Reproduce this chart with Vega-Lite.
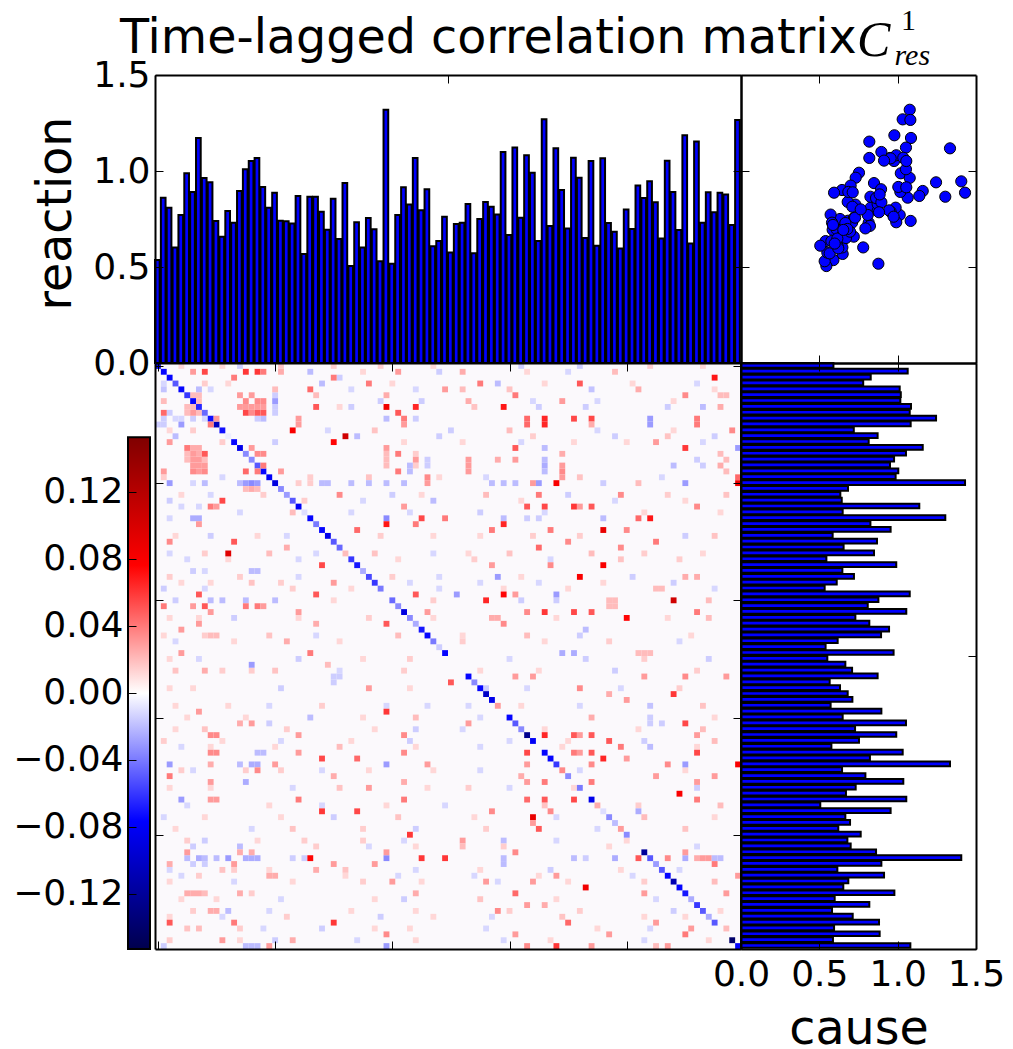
{"$schema":"https://vega.github.io/schema/vega-lite/v6.json","padding":{"left":12,"top":6,"right":0,"bottom":0},"background":"white","config":{"view":{"stroke":null},"font":"DejaVu Sans","axis":{"grid":false,"domainColor":"#000","domainWidth":2,"tickColor":"#000","tickWidth":1,"tickSize":-8,"labelFont":"DejaVu Sans","labelFontSize":36,"labelColor":"#000","labelOverlap":false,"labelFlush":false,"titleFont":"DejaVu Sans","titleFontSize":47.5,"titleFontWeight":"normal","titleColor":"#000"}},
"datasets":{"m":[{"i":0,"cause":0.59,"reaction":0.536},{"i":1,"cause":1.064,"reaction":0.861},{"i":2,"cause":0.828,"reaction":0.809},{"i":3,"cause":0.78,"reaction":0.602},{"i":4,"cause":1.013,"reaction":0.771},{"i":5,"cause":1.02,"reaction":0.988},{"i":6,"cause":1.017,"reaction":0.891},{"i":7,"cause":1.085,"reaction":1.172},{"i":8,"cause":1.077,"reaction":0.964},{"i":9,"cause":1.245,"reaction":0.941},{"i":10,"cause":1.083,"reaction":0.74},{"i":11,"cause":0.72,"reaction":0.658},{"i":12,"cause":0.872,"reaction":0.792},{"i":13,"cause":0.815,"reaction":0.731},{"i":14,"cause":1.16,"reaction":0.896},{"i":15,"cause":1.053,"reaction":1.009},{"i":16,"cause":0.977,"reaction":1.052},{"i":17,"cause":0.951,"reaction":1.068},{"i":18,"cause":1.004,"reaction":0.917},{"i":19,"cause":0.987,"reaction":0.809},{"i":20,"cause":1.43,"reaction":0.887},{"i":21,"cause":0.683,"reaction":0.741},{"i":22,"cause":0.634,"reaction":0.738},{"i":23,"cause":0.643,"reaction":0.727},{"i":24,"cause":1.138,"reaction":0.87},{"i":25,"cause":0.649,"reaction":0.568},{"i":26,"cause":1.304,"reaction":0.866},{"i":27,"cause":0.826,"reaction":0.866},{"i":28,"cause":0.955,"reaction":0.788},{"i":29,"cause":0.585,"reaction":0.694},{"i":30,"cause":0.868,"reaction":0.856},{"i":31,"cause":0.655,"reaction":0.646},{"i":32,"cause":0.849,"reaction":0.937},{"i":33,"cause":0.545,"reaction":0.505},{"i":34,"cause":0.991,"reaction":0.733},{"i":35,"cause":0.647,"reaction":0.602},{"i":36,"cause":0.721,"reaction":0.755},{"i":37,"cause":0.611,"reaction":0.696},{"i":38,"cause":0.534,"reaction":0.53},{"i":39,"cause":1.077,"reaction":1.319},{"i":40,"cause":0.877,"reaction":0.517},{"i":41,"cause":0.809,"reaction":0.771},{"i":42,"cause":1.055,"reaction":0.915},{"i":43,"cause":0.73,"reaction":0.825},{"i":44,"cause":0.819,"reaction":1.068},{"i":45,"cause":0.945,"reaction":0.795},{"i":46,"cause":0.894,"reaction":0.905},{"i":47,"cause":0.617,"reaction":0.608},{"i":48,"cause":0.54,"reaction":0.635},{"i":49,"cause":0.974,"reaction":0.762},{"i":50,"cause":0.551,"reaction":0.575},{"i":51,"cause":0.666,"reaction":0.724},{"i":52,"cause":0.709,"reaction":0.731},{"i":53,"cause":0.872,"reaction":0.828},{"i":54,"cause":0.566,"reaction":0.571},{"i":55,"cause":0.632,"reaction":0.75},{"i":56,"cause":0.681,"reaction":0.839},{"i":57,"cause":0.711,"reaction":0.814},{"i":58,"cause":0.572,"reaction":0.773},{"i":59,"cause":0.896,"reaction":1.099},{"i":60,"cause":0.649,"reaction":0.667},{"i":61,"cause":1.053,"reaction":1.122},{"i":62,"cause":0.728,"reaction":0.757},{"i":63,"cause":0.991,"reaction":1.082},{"i":64,"cause":0.753,"reaction":0.991},{"i":65,"cause":0.577,"reaction":0.635},{"i":66,"cause":1.032,"reaction":1.269},{"i":67,"cause":0.823,"reaction":0.714},{"i":68,"cause":1.334,"reaction":1.118},{"i":69,"cause":0.645,"reaction":0.901},{"i":70,"cause":0.794,"reaction":0.701},{"i":71,"cause":1.036,"reaction":1.069},{"i":72,"cause":0.732,"reaction":0.965},{"i":73,"cause":0.67,"reaction":0.651},{"i":74,"cause":1.055,"reaction":1.052},{"i":75,"cause":0.506,"reaction":0.611},{"i":76,"cause":0.955,"reaction":1.066},{"i":77,"cause":0.666,"reaction":0.729},{"i":78,"cause":0.696,"reaction":0.684},{"i":79,"cause":0.621,"reaction":0.597},{"i":80,"cause":0.764,"reaction":0.8},{"i":81,"cause":0.679,"reaction":0.698},{"i":82,"cause":0.7,"reaction":0.924},{"i":83,"cause":0.862,"reaction":0.859},{"i":84,"cause":1.406,"reaction":0.946},{"i":85,"cause":0.896,"reaction":0.837},{"i":86,"cause":0.615,"reaction":0.648},{"i":87,"cause":0.913,"reaction":1.054},{"i":88,"cause":0.685,"reaction":0.891},{"i":89,"cause":0.653,"reaction":0.693},{"i":90,"cause":0.979,"reaction":1.186},{"i":91,"cause":0.598,"reaction":0.622},{"i":92,"cause":0.819,"reaction":1.153},{"i":93,"cause":0.581,"reaction":0.731},{"i":94,"cause":0.713,"reaction":0.889},{"i":95,"cause":0.881,"reaction":0.785},{"i":96,"cause":0.594,"reaction":0.887},{"i":97,"cause":0.885,"reaction":0.878},{"i":98,"cause":0.587,"reaction":0.719},{"i":99,"cause":1.081,"reaction":1.266}],
"h":[{"r":0,"c":4,"v":0.012},{"r":0,"c":11,"v":0.012},{"r":0,"c":14,"v":-0.015},{"r":0,"c":21,"v":0.018},{"r":0,"c":30,"v":0.015},{"r":0,"c":38,"v":0.015},{"r":0,"c":47,"v":0.012},{"r":0,"c":62,"v":-0.015},{"r":0,"c":72,"v":-0.015},{"r":0,"c":84,"v":0.015},{"r":0,"c":93,"v":0.012},{"r":1,"c":26,"v":-0.02},{"r":1,"c":35,"v":0.012},{"r":1,"c":48,"v":-0.015},{"r":1,"c":63,"v":0.012},{"r":1,"c":70,"v":-0.012},{"r":1,"c":78,"v":0.02},{"r":3,"c":1,"v":-0.012},{"r":3,"c":8,"v":0.015},{"r":3,"c":12,"v":0.012},{"r":3,"c":28,"v":-0.02},{"r":3,"c":40,"v":0.012},{"r":3,"c":58,"v":-0.02},{"r":3,"c":66,"v":0.012},{"r":3,"c":81,"v":0.012},{"r":3,"c":92,"v":-0.012},{"r":4,"c":1,"v":-0.018},{"r":4,"c":33,"v":-0.012},{"r":4,"c":44,"v":-0.012},{"r":4,"c":52,"v":0.02},{"r":4,"c":60,"v":0.018},{"r":4,"c":74,"v":-0.018},{"r":4,"c":82,"v":0.025},{"r":4,"c":95,"v":0.012},{"r":6,"c":1,"v":0.02},{"r":6,"c":38,"v":-0.015},{"r":6,"c":45,"v":-0.015},{"r":6,"c":53,"v":0.025},{"r":6,"c":64,"v":-0.012},{"r":6,"c":75,"v":-0.012},{"r":6,"c":88,"v":0.012},{"r":7,"c":31,"v":0.012},{"r":7,"c":54,"v":0.018},{"r":7,"c":65,"v":-0.015},{"r":7,"c":73,"v":-0.015},{"r":7,"c":87,"v":-0.015},{"r":7,"c":93,"v":-0.02},{"r":11,"c":2,"v":0.012},{"r":11,"c":6,"v":0.015},{"r":11,"c":29,"v":-0.012},{"r":11,"c":37,"v":0.018},{"r":11,"c":50,"v":-0.015},{"r":11,"c":60,"v":0.02},{"r":11,"c":75,"v":-0.012},{"r":11,"c":88,"v":0.012},{"r":12,"c":3,"v":-0.02},{"r":12,"c":34,"v":-0.02},{"r":12,"c":48,"v":-0.015},{"r":12,"c":64,"v":0.015},{"r":12,"c":78,"v":-0.015},{"r":12,"c":87,"v":0.018},{"r":12,"c":95,"v":-0.015},{"r":13,"c":11,"v":0.015},{"r":13,"c":20,"v":-0.015},{"r":13,"c":42,"v":0.012},{"r":13,"c":52,"v":0.012},{"r":13,"c":62,"v":-0.012},{"r":13,"c":71,"v":0.012},{"r":13,"c":80,"v":0.012},{"r":13,"c":93,"v":-0.012},{"r":19,"c":1,"v":0.015},{"r":19,"c":11,"v":-0.012},{"r":19,"c":26,"v":0.015},{"r":19,"c":36,"v":0.018},{"r":19,"c":48,"v":0.012},{"r":19,"c":56,"v":-0.012},{"r":19,"c":72,"v":0.018},{"r":19,"c":86,"v":-0.012},{"r":22,"c":4,"v":0.012},{"r":22,"c":9,"v":-0.012},{"r":22,"c":18,"v":0.015},{"r":22,"c":40,"v":-0.015},{"r":22,"c":45,"v":0.012},{"r":22,"c":56,"v":0.02},{"r":22,"c":70,"v":-0.015},{"r":22,"c":87,"v":0.015},{"r":22,"c":97,"v":0.018},{"r":23,"c":2,"v":-0.015},{"r":23,"c":25,"v":0.015},{"r":23,"c":35,"v":-0.012},{"r":23,"c":47,"v":-0.02},{"r":23,"c":62,"v":0.012},{"r":23,"c":78,"v":-0.012},{"r":23,"c":90,"v":0.012},{"r":25,"c":14,"v":-0.012},{"r":25,"c":23,"v":0.02},{"r":25,"c":33,"v":-0.012},{"r":25,"c":43,"v":-0.012},{"r":25,"c":55,"v":-0.015},{"r":25,"c":66,"v":-0.012},{"r":25,"c":83,"v":0.012},{"r":25,"c":96,"v":0.012},{"r":29,"c":3,"v":0.012},{"r":29,"c":9,"v":-0.015},{"r":29,"c":17,"v":0.012},{"r":29,"c":22,"v":-0.012},{"r":29,"c":38,"v":0.015},{"r":29,"c":47,"v":0.012},{"r":29,"c":55,"v":0.012},{"r":29,"c":64,"v":0.015},{"r":29,"c":72,"v":0.015},{"r":29,"c":90,"v":-0.015},{"r":29,"c":95,"v":0.018},{"r":32,"c":2,"v":-0.012},{"r":32,"c":8,"v":0.015},{"r":32,"c":19,"v":0.02},{"r":32,"c":27,"v":-0.012},{"r":32,"c":37,"v":0.018},{"r":32,"c":47,"v":-0.012},{"r":32,"c":53,"v":0.012},{"r":32,"c":60,"v":0.018},{"r":32,"c":74,"v":0.02},{"r":32,"c":83,"v":0.015},{"r":32,"c":93,"v":0.012},{"r":33,"c":5,"v":-0.012},{"r":33,"c":12,"v":0.012},{"r":33,"c":24,"v":-0.012},{"r":33,"c":41,"v":0.012},{"r":33,"c":54,"v":0.015},{"r":33,"c":67,"v":-0.012},{"r":33,"c":79,"v":0.018},{"r":33,"c":89,"v":0.015},{"r":36,"c":2,"v":0.015},{"r":36,"c":14,"v":0.015},{"r":36,"c":24,"v":-0.012},{"r":36,"c":40,"v":0.015},{"r":36,"c":48,"v":-0.012},{"r":36,"c":62,"v":0.012},{"r":36,"c":81,"v":-0.015},{"r":36,"c":90,"v":0.025},{"r":36,"c":92,"v":0.025},{"r":37,"c":4,"v":0.012},{"r":37,"c":9,"v":0.012},{"r":37,"c":16,"v":0.018},{"r":37,"c":21,"v":0.015},{"r":37,"c":43,"v":-0.012},{"r":37,"c":55,"v":-0.012},{"r":37,"c":65,"v":-0.012},{"r":37,"c":76,"v":0.012},{"r":37,"c":88,"v":-0.015},{"r":38,"c":1,"v":-0.015},{"r":38,"c":8,"v":-0.012},{"r":38,"c":23,"v":0.015},{"r":38,"c":33,"v":0.012},{"r":38,"c":48,"v":-0.012},{"r":38,"c":59,"v":0.012},{"r":38,"c":70,"v":0.012},{"r":38,"c":95,"v":-0.012},{"r":40,"c":3,"v":-0.015},{"r":40,"c":9,"v":-0.02},{"r":40,"c":11,"v":-0.02},{"r":40,"c":15,"v":-0.02},{"r":40,"c":20,"v":-0.02},{"r":40,"c":30,"v":0.012},{"r":40,"c":47,"v":0.015},{"r":40,"c":62,"v":-0.015},{"r":40,"c":68,"v":-0.015},{"r":40,"c":94,"v":0.02},{"r":43,"c":2,"v":0.012},{"r":43,"c":7,"v":0.012},{"r":43,"c":13,"v":-0.015},{"r":43,"c":24,"v":0.012},{"r":43,"c":36,"v":0.015},{"r":43,"c":47,"v":0.012},{"r":43,"c":57,"v":0.025},{"r":43,"c":58,"v":0.025},{"r":43,"c":68,"v":0.012},{"r":43,"c":87,"v":0.012},{"r":43,"c":94,"v":0.02},{"r":46,"c":1,"v":0.012},{"r":46,"c":8,"v":0.015},{"r":46,"c":9,"v":0.02},{"r":46,"c":10,"v":0.02},{"r":46,"c":19,"v":0.018},{"r":46,"c":27,"v":-0.012},{"r":46,"c":41,"v":0.02},{"r":46,"c":52,"v":0.012},{"r":46,"c":63,"v":0.02},{"r":46,"c":72,"v":-0.015},{"r":46,"c":91,"v":0.012},{"r":47,"c":3,"v":-0.012},{"r":47,"c":13,"v":0.012},{"r":47,"c":22,"v":0.025},{"r":47,"c":31,"v":0.012},{"r":47,"c":52,"v":0.015},{"r":47,"c":66,"v":0.012},{"r":47,"c":77,"v":0.015},{"r":47,"c":89,"v":-0.012},{"r":50,"c":2,"v":0.012},{"r":50,"c":7,"v":-0.012},{"r":50,"c":24,"v":-0.015},{"r":50,"c":35,"v":0.012},{"r":50,"c":43,"v":0.015},{"r":50,"c":60,"v":-0.012},{"r":50,"c":73,"v":-0.015},{"r":50,"c":83,"v":0.015},{"r":50,"c":94,"v":-0.015},{"r":52,"c":3,"v":0.018},{"r":52,"c":8,"v":0.025},{"r":52,"c":11,"v":0.015},{"r":52,"c":16,"v":0.015},{"r":52,"c":20,"v":0.018},{"r":52,"c":31,"v":-0.012},{"r":52,"c":42,"v":0.015},{"r":52,"c":55,"v":0.012},{"r":52,"c":65,"v":0.012},{"r":52,"c":78,"v":-0.015},{"r":52,"c":92,"v":0.015},{"r":55,"c":2,"v":0.012},{"r":55,"c":6,"v":0.012},{"r":55,"c":21,"v":-0.015},{"r":55,"c":43,"v":0.012},{"r":55,"c":56,"v":-0.015},{"r":55,"c":63,"v":-0.012},{"r":55,"c":79,"v":-0.012},{"r":55,"c":89,"v":0.015},{"r":58,"c":3,"v":0.012},{"r":58,"c":12,"v":0.012},{"r":58,"c":19,"v":-0.012},{"r":58,"c":28,"v":0.015},{"r":58,"c":39,"v":-0.012},{"r":58,"c":46,"v":-0.012},{"r":58,"c":53,"v":-0.012},{"r":58,"c":62,"v":0.012},{"r":58,"c":72,"v":-0.012},{"r":58,"c":84,"v":-0.018},{"r":58,"c":93,"v":0.018},{"r":60,"c":5,"v":0.012},{"r":60,"c":15,"v":0.012},{"r":60,"c":26,"v":-0.02},{"r":60,"c":35,"v":0.012},{"r":60,"c":44,"v":0.02},{"r":60,"c":55,"v":-0.012},{"r":60,"c":74,"v":0.025},{"r":60,"c":84,"v":-0.015},{"r":60,"c":95,"v":0.012},{"r":62,"c":3,"v":0.012},{"r":62,"c":8,"v":0.018},{"r":62,"c":22,"v":0.015},{"r":62,"c":37,"v":0.012},{"r":62,"c":44,"v":-0.015},{"r":62,"c":52,"v":-0.012},{"r":62,"c":66,"v":0.012},{"r":62,"c":82,"v":0.012},{"r":62,"c":93,"v":0.02},{"r":64,"c":1,"v":0.015},{"r":64,"c":11,"v":0.012},{"r":64,"c":21,"v":-0.012},{"r":64,"c":33,"v":0.012},{"r":64,"c":43,"v":-0.015},{"r":64,"c":60,"v":-0.012},{"r":64,"c":70,"v":0.012},{"r":64,"c":83,"v":-0.015},{"r":64,"c":95,"v":0.02},{"r":65,"c":4,"v":-0.012},{"r":65,"c":9,"v":0.012},{"r":65,"c":20,"v":0.012},{"r":65,"c":31,"v":0.02},{"r":65,"c":44,"v":0.012},{"r":65,"c":55,"v":-0.012},{"r":65,"c":69,"v":0.012},{"r":65,"c":84,"v":-0.02},{"r":65,"c":92,"v":0.012},{"r":69,"c":4,"v":0.015},{"r":69,"c":6,"v":-0.012},{"r":69,"c":15,"v":0.015},{"r":69,"c":21,"v":0.015},{"r":69,"c":28,"v":-0.012},{"r":69,"c":36,"v":0.012},{"r":69,"c":47,"v":0.012},{"r":69,"c":55,"v":-0.012},{"r":69,"c":72,"v":-0.012},{"r":69,"c":90,"v":0.012},{"r":72,"c":2,"v":0.012},{"r":72,"c":9,"v":0.012},{"r":72,"c":23,"v":-0.012},{"r":72,"c":31,"v":0.018},{"r":72,"c":46,"v":0.012},{"r":72,"c":53,"v":0.015},{"r":72,"c":60,"v":-0.012},{"r":72,"c":71,"v":0.012},{"r":72,"c":92,"v":-0.015},{"r":75,"c":5,"v":-0.012},{"r":75,"c":19,"v":0.012},{"r":75,"c":28,"v":-0.012},{"r":75,"c":39,"v":0.012},{"r":75,"c":49,"v":-0.012},{"r":75,"c":66,"v":0.018},{"r":75,"c":82,"v":0.015},{"r":75,"c":96,"v":0.02},{"r":77,"c":1,"v":-0.012},{"r":77,"c":8,"v":0.012},{"r":77,"c":21,"v":0.012},{"r":77,"c":30,"v":-0.015},{"r":77,"c":41,"v":0.018},{"r":77,"c":54,"v":0.012},{"r":77,"c":68,"v":-0.012},{"r":77,"c":83,"v":0.02},{"r":77,"c":95,"v":0.012},{"r":79,"c":3,"v":0.012},{"r":79,"c":16,"v":-0.012},{"r":79,"c":23,"v":0.018},{"r":79,"c":35,"v":0.015},{"r":79,"c":44,"v":-0.015},{"r":79,"c":56,"v":0.015},{"r":79,"c":75,"v":-0.012},{"r":79,"c":90,"v":0.018},{"r":81,"c":5,"v":0.015},{"r":81,"c":8,"v":-0.015},{"r":81,"c":17,"v":0.012},{"r":81,"c":25,"v":0.015},{"r":81,"c":35,"v":0.015},{"r":81,"c":42,"v":-0.012},{"r":81,"c":59,"v":-0.02},{"r":81,"c":68,"v":-0.012},{"r":81,"c":80,"v":0.012},{"r":82,"c":6,"v":-0.015},{"r":82,"c":14,"v":-0.02},{"r":82,"c":27,"v":0.015},{"r":82,"c":36,"v":-0.012},{"r":82,"c":44,"v":0.012},{"r":82,"c":59,"v":0.015},{"r":82,"c":77,"v":0.012},{"r":82,"c":92,"v":-0.012},{"r":86,"c":2,"v":-0.012},{"r":86,"c":11,"v":0.018},{"r":86,"c":13,"v":0.015},{"r":86,"c":19,"v":0.012},{"r":86,"c":27,"v":0.025},{"r":86,"c":32,"v":0.018},{"r":86,"c":44,"v":-0.012},{"r":86,"c":55,"v":0.012},{"r":86,"c":67,"v":-0.015},{"r":86,"c":79,"v":0.012},{"r":86,"c":89,"v":-0.012},{"r":87,"c":4,"v":-0.012},{"r":87,"c":7,"v":0.015},{"r":87,"c":32,"v":0.012},{"r":87,"c":41,"v":-0.012},{"r":87,"c":54,"v":-0.012},{"r":87,"c":65,"v":0.012},{"r":87,"c":81,"v":-0.012},{"r":88,"c":2,"v":0.012},{"r":88,"c":13,"v":-0.012},{"r":88,"c":23,"v":0.012},{"r":88,"c":35,"v":0.015},{"r":88,"c":45,"v":0.012},{"r":88,"c":58,"v":-0.012},{"r":88,"c":70,"v":0.012},{"r":88,"c":83,"v":0.015},{"r":88,"c":95,"v":0.02},{"r":91,"c":4,"v":0.012},{"r":91,"c":10,"v":0.012},{"r":91,"c":21,"v":-0.012},{"r":91,"c":37,"v":0.012},{"r":91,"c":42,"v":-0.015},{"r":91,"c":55,"v":0.018},{"r":91,"c":68,"v":0.012},{"r":91,"c":85,"v":-0.012},{"r":93,"c":6,"v":0.015},{"r":93,"c":9,"v":0.025},{"r":93,"c":10,"v":0.025},{"r":93,"c":12,"v":-0.02},{"r":93,"c":19,"v":-0.012},{"r":93,"c":33,"v":0.012},{"r":93,"c":44,"v":0.012},{"r":93,"c":60,"v":0.015},{"r":93,"c":72,"v":0.015},{"r":93,"c":88,"v":-0.015},{"r":93,"c":96,"v":0.012},{"r":94,"c":2,"v":0.012},{"r":94,"c":11,"v":-0.012},{"r":94,"c":22,"v":0.015},{"r":94,"c":38,"v":-0.015},{"r":94,"c":47,"v":0.012},{"r":94,"c":57,"v":-0.012},{"r":94,"c":69,"v":0.018},{"r":94,"c":83,"v":0.012},{"r":94,"c":90,"v":0.012},{"r":96,"c":5,"v":0.018},{"r":96,"c":7,"v":0.02},{"r":96,"c":14,"v":0.015},{"r":96,"c":18,"v":-0.012},{"r":96,"c":28,"v":-0.015},{"r":96,"c":37,"v":0.012},{"r":96,"c":43,"v":0.012},{"r":96,"c":56,"v":-0.012},{"r":96,"c":75,"v":0.012},{"r":96,"c":84,"v":-0.012},{"r":96,"c":97,"v":0.02},{"r":98,"c":2,"v":0.015},{"r":98,"c":14,"v":0.012},{"r":98,"c":20,"v":-0.015},{"r":98,"c":34,"v":-0.012},{"r":98,"c":44,"v":0.012},{"r":98,"c":59,"v":-0.012},{"r":98,"c":67,"v":0.012},{"r":98,"c":83,"v":-0.012},{"r":98,"c":94,"v":0.012},
{"r":5,"c":6,"v":0.02},{"r":5,"c":7,"v":0.02},{"r":6,"c":7,"v":0.02},{"r":7,"c":5,"v":0.02},{"r":7,"c":6,"v":0.02},{"r":8,"c":5,"v":0.02},{"r":8,"c":7,"v":0.02},{"r":14,"c":6,"v":0.025},{"r":14,"c":7,"v":0.025},{"r":15,"c":5,"v":0.02},{"r":15,"c":7,"v":0.025},{"r":16,"c":5,"v":0.02},{"r":16,"c":8,"v":0.02},{"r":17,"c":6,"v":0.03},{"r":17,"c":7,"v":0.03},{"r":18,"c":7,"v":0.03},{"r":9,"c":1,"v":-0.015},{"r":9,"c":3,"v":-0.012},{"r":9,"c":4,"v":-0.012},{"r":9,"c":6,"v":-0.015},{"r":9,"c":8,"v":-0.012},{"r":9,"c":17,"v":-0.015},{"r":9,"c":18,"v":-0.02},{"r":10,"c":0,"v":-0.015},{"r":10,"c":1,"v":-0.015},{"r":10,"c":4,"v":-0.03},{"r":5,"c":20,"v":-0.015},{"r":7,"c":20,"v":-0.015},{"r":8,"c":20,"v":-0.015},{"r":8,"c":2,"v":-0.015},{"r":4,"c":7,"v":-0.02},{"r":4,"c":9,"v":-0.012},{"r":20,"c":6,"v":-0.012},{"r":20,"c":8,"v":-0.02},{"r":20,"c":14,"v":-0.02},{"r":20,"c":15,"v":-0.03},{"r":20,"c":17,"v":-0.03},{"r":20,"c":24,"v":0.015},{"r":20,"c":26,"v":0.015},{"r":26,"c":2,"v":-0.012},{"r":26,"c":6,"v":-0.025},{"r":26,"c":7,"v":-0.025},{"r":24,"c":4,"v":-0.012},{"r":24,"c":7,"v":-0.012},{"r":35,"c":6,"v":-0.015},{"r":35,"c":8,"v":-0.012},{"r":35,"c":16,"v":-0.02},{"r":35,"c":17,"v":-0.02},{"r":21,"c":15,"v":0.02},{"r":21,"c":17,"v":0.02},{"r":15,"c":39,"v":0.02},{"r":16,"c":39,"v":0.02},{"r":17,"c":39,"v":0.02},{"r":15,"c":44,"v":0.015},{"r":17,"c":44,"v":0.015},{"r":16,"c":46,"v":-0.015},{"r":17,"c":46,"v":-0.015},{"r":18,"c":43,"v":-0.02},{"r":17,"c":43,"v":-0.02},{"r":9,"c":39,"v":-0.02},{"r":9,"c":44,"v":-0.015},{"r":20,"c":29,"v":-0.02},{"r":20,"c":33,"v":-0.02},{"r":20,"c":36,"v":-0.02},{"r":20,"c":39,"v":-0.02},{"r":20,"c":42,"v":-0.02},{"r":7,"c":33,"v":-0.015},{"r":2,"c":31,"v":-0.015},{"r":14,"c":66,"v":-0.02},{"r":16,"c":66,"v":-0.02},{"r":17,"c":66,"v":-0.025},{"r":18,"c":66,"v":-0.02},{"r":15,"c":69,"v":0.025},{"r":17,"c":69,"v":0.03},{"r":18,"c":69,"v":0.035},{"r":19,"c":69,"v":0.03},{"r":15,"c":96,"v":0.02},{"r":17,"c":96,"v":0.025},{"r":16,"c":97,"v":0.02},{"r":18,"c":97,"v":0.02},{"r":5,"c":96,"v":0.02},{"r":5,"c":97,"v":0.02},{"r":7,"c":96,"v":0.025},{"r":16,"c":58,"v":0.025},{"r":16,"c":53,"v":0.03},{"r":17,"c":53,"v":0.03},{"r":18,"c":53,"v":0.03},{"r":16,"c":61,"v":0.03},{"r":17,"c":88,"v":-0.02},{"r":16,"c":92,"v":-0.015},{"r":17,"c":93,"v":-0.015},{"r":20,"c":57,"v":-0.02},{"r":20,"c":59,"v":-0.02},{"r":20,"c":61,"v":-0.02},{"r":20,"c":64,"v":0.03},{"r":20,"c":65,"v":-0.03},{"r":20,"c":76,"v":-0.015},{"r":20,"c":82,"v":0.02},{"r":20,"c":90,"v":-0.03},{"r":26,"c":59,"v":-0.02},{"r":26,"c":63,"v":-0.015},{"r":26,"c":65,"v":-0.015},{"r":26,"c":76,"v":-0.02},{"r":9,"c":84,"v":-0.03},{"r":84,"c":5,"v":-0.02},{"r":84,"c":8,"v":-0.02},{"r":84,"c":10,"v":-0.02},{"r":84,"c":15,"v":-0.025},{"r":84,"c":16,"v":-0.025},{"r":84,"c":17,"v":-0.025},{"r":84,"c":23,"v":-0.015},{"r":84,"c":25,"v":-0.015},{"r":85,"c":6,"v":-0.015},{"r":85,"c":8,"v":-0.015},{"r":68,"c":14,"v":-0.02},{"r":68,"c":16,"v":-0.025},{"r":68,"c":17,"v":-0.025},{"r":66,"c":17,"v":-0.02},{"r":66,"c":18,"v":-0.02},{"r":53,"c":30,"v":-0.015},{"r":53,"c":31,"v":-0.015},{"r":54,"c":30,"v":-0.015},{"r":90,"c":6,"v":0.025},{"r":90,"c":8,"v":0.02},{"r":90,"c":16,"v":0.015},{"r":61,"c":14,"v":0.025},{"r":61,"c":16,"v":0.03},{"r":61,"c":19,"v":-0.015},{"r":87,"c":19,"v":0.025},{"r":87,"c":20,"v":0.025},{"r":84,"c":71,"v":-0.02},{"r":84,"c":73,"v":-0.015},{"r":84,"c":59,"v":-0.02},{"r":85,"c":59,"v":-0.02},{"r":84,"c":90,"v":-0.025},{"r":84,"c":92,"v":0.025},{"r":84,"c":93,"v":0.03},{"r":84,"c":94,"v":0.03},{"r":84,"c":95,"v":-0.02},{"r":84,"c":96,"v":-0.02},{"r":61,"c":84,"v":-0.015},{"r":61,"c":86,"v":-0.015},{"r":49,"c":69,"v":-0.025},{"r":49,"c":71,"v":-0.025},{"r":49,"c":82,"v":0.02},{"r":49,"c":83,"v":0.02},{"r":49,"c":84,"v":0.02},{"r":40,"c":77,"v":0.02},{"r":41,"c":77,"v":0.02},{"r":40,"c":78,"v":0.02},{"r":41,"c":78,"v":0.02},{"r":45,"c":73,"v":-0.02},{"r":38,"c":85,"v":0.02},{"r":38,"c":86,"v":0.02},{"r":99,"c":85,"v":0.02},
{"r":0,"c":0,"v":-0.08},{"r":1,"c":1,"v":-0.075},{"r":2,"c":2,"v":-0.075},{"r":3,"c":3,"v":-0.05},{"r":4,"c":4,"v":-0.075},{"r":5,"c":5,"v":-0.06},{"r":6,"c":6,"v":-0.075},{"r":7,"c":7,"v":-0.065},{"r":8,"c":8,"v":-0.045},{"r":9,"c":9,"v":-0.072},{"r":10,"c":10,"v":-0.105},{"r":11,"c":11,"v":-0.072},{"r":12,"c":12,"v":-0.005},{"r":13,"c":13,"v":-0.075},{"r":14,"c":14,"v":-0.085},{"r":15,"c":15,"v":-0.035},{"r":16,"c":16,"v":-0.035},{"r":17,"c":17,"v":-0.05},{"r":18,"c":18,"v":-0.075},{"r":19,"c":19,"v":-0.08},{"r":20,"c":20,"v":-0.09},{"r":21,"c":21,"v":-0.035},{"r":22,"c":22,"v":-0.03},{"r":23,"c":23,"v":-0.05},{"r":24,"c":24,"v":-0.08},{"r":25,"c":25,"v":-0.01},{"r":26,"c":26,"v":-0.075},{"r":27,"c":27,"v":-0.04},{"r":28,"c":28,"v":-0.075},{"r":29,"c":29,"v":-0.085},{"r":30,"c":30,"v":-0.05},{"r":31,"c":31,"v":-0.045},{"r":32,"c":32,"v":0.02},{"r":33,"c":33,"v":-0.06},{"r":34,"c":34,"v":-0.07},{"r":35,"c":35,"v":-0.025},{"r":36,"c":36,"v":-0.055},{"r":37,"c":37,"v":-0.06},{"r":38,"c":38,"v":-0.04},{"r":40,"c":40,"v":-0.045},{"r":41,"c":41,"v":-0.035},{"r":42,"c":42,"v":-0.09},{"r":43,"c":43,"v":-0.035},{"r":44,"c":44,"v":-0.025},{"r":45,"c":45,"v":-0.07},{"r":46,"c":46,"v":-0.075},{"r":47,"c":47,"v":-0.04},{"r":48,"c":48,"v":-0.015},{"r":49,"c":49,"v":-0.075},{"r":53,"c":53,"v":-0.075},{"r":54,"c":54,"v":-0.035},{"r":55,"c":55,"v":-0.075},{"r":56,"c":56,"v":-0.1},{"r":57,"c":57,"v":-0.085},{"r":58,"c":58,"v":0.03},{"r":60,"c":60,"v":-0.075},{"r":61,"c":61,"v":-0.05},{"r":62,"c":62,"v":-0.035},{"r":63,"c":63,"v":-0.125},{"r":64,"c":64,"v":-0.08},{"r":66,"c":66,"v":-0.075},{"r":67,"c":67,"v":-0.075},{"r":68,"c":68,"v":-0.06},{"r":69,"c":69,"v":0.035},{"r":70,"c":70,"v":-0.035},{"r":72,"c":72,"v":-0.04},{"r":74,"c":74,"v":-0.085},{"r":75,"c":75,"v":0.025},{"r":76,"c":76,"v":-0.01},{"r":77,"c":77,"v":-0.035},{"r":78,"c":78,"v":-0.02},{"r":79,"c":79,"v":0.03},{"r":80,"c":80,"v":-0.035},{"r":83,"c":83,"v":-0.12},{"r":84,"c":84,"v":-0.05},{"r":85,"c":85,"v":-0.03},{"r":86,"c":86,"v":-0.05},{"r":87,"c":87,"v":-0.075},{"r":88,"c":88,"v":-0.11},{"r":89,"c":89,"v":-0.075},{"r":90,"c":90,"v":-0.07},{"r":91,"c":91,"v":-0.025},{"r":92,"c":92,"v":-0.06},{"r":93,"c":93,"v":-0.05},{"r":94,"c":94,"v":-0.025},{"r":95,"c":95,"v":-0.05},{"r":98,"c":98,"v":-0.14},{"r":99,"c":99,"v":-0.075},
{"r":1,"c":6,"v":0.03},{"r":1,"c":8,"v":0.055},{"r":1,"c":15,"v":0.06},{"r":1,"c":17,"v":0.06},{"r":1,"c":18,"v":0.04},{"r":1,"c":21,"v":0.025},{"r":1,"c":41,"v":0.03},{"r":2,"c":13,"v":0.04},{"r":2,"c":30,"v":0.04},{"r":3,"c":36,"v":0.04},{"r":4,"c":26,"v":0.045},{"r":4,"c":49,"v":0.03},{"r":4,"c":20,"v":0.02},{"r":5,"c":14,"v":0.03},{"r":5,"c":16,"v":0.03},{"r":5,"c":27,"v":0.02},{"r":5,"c":39,"v":0.025},{"r":6,"c":15,"v":0.035},{"r":6,"c":17,"v":0.035},{"r":6,"c":18,"v":0.035},{"r":6,"c":20,"v":-0.03},{"r":7,"c":14,"v":0.03},{"r":7,"c":15,"v":0.03},{"r":7,"c":16,"v":0.03},{"r":7,"c":17,"v":0.03},{"r":7,"c":18,"v":0.03},{"r":7,"c":27,"v":0.05},{"r":7,"c":39,"v":0.085},{"r":7,"c":44,"v":0.065},{"r":8,"c":1,"v":0.045},{"r":8,"c":6,"v":0.03},{"r":8,"c":15,"v":0.055},{"r":8,"c":16,"v":0.035},{"r":8,"c":17,"v":0.05},{"r":8,"c":18,"v":0.05},{"r":8,"c":41,"v":0.05},{"r":9,"c":10,"v":0.03},{"r":9,"c":24,"v":0.03},{"r":9,"c":42,"v":0.04},{"r":10,"c":9,"v":0.04},{"r":10,"c":24,"v":0.03},{"r":10,"c":42,"v":0.03},{"r":11,"c":23,"v":0.08},{"r":12,"c":32,"v":0.105},{"r":13,"c":2,"v":0.03},{"r":13,"c":30,"v":0.075},{"r":14,"c":5,"v":0.04},{"r":14,"c":16,"v":0.03},{"r":14,"c":39,"v":0.03},{"r":15,"c":6,"v":0.03},{"r":15,"c":8,"v":0.05},{"r":15,"c":17,"v":0.035},{"r":15,"c":18,"v":0.035},{"r":15,"c":41,"v":0.04},{"r":16,"c":6,"v":0.03},{"r":16,"c":7,"v":0.03},{"r":16,"c":44,"v":0.03},{"r":17,"c":8,"v":0.03},{"r":17,"c":18,"v":0.04},{"r":18,"c":1,"v":0.03},{"r":18,"c":6,"v":0.035},{"r":18,"c":8,"v":0.035},{"r":18,"c":15,"v":0.045},{"r":18,"c":17,"v":0.04},{"r":18,"c":21,"v":0.03},{"r":18,"c":41,"v":0.04},{"r":19,"c":46,"v":0.035},{"r":20,"c":2,"v":-0.03},{"r":20,"c":16,"v":-0.035},{"r":20,"c":46,"v":0.03},{"r":20,"c":28,"v":-0.02},{"r":21,"c":16,"v":0.025},{"r":22,"c":31,"v":0.035},{"r":23,"c":11,"v":0.055},{"r":24,"c":9,"v":0.04},{"r":24,"c":10,"v":0.03},{"r":24,"c":42,"v":0.03},{"r":26,"c":45,"v":0.055},{"r":26,"c":49,"v":0.04},{"r":26,"c":39,"v":-0.035},{"r":27,"c":39,"v":0.07},{"r":27,"c":7,"v":0.03},{"r":27,"c":44,"v":0.04},{"r":28,"c":34,"v":0.045},{"r":30,"c":2,"v":0.035},{"r":30,"c":13,"v":0.05},{"r":31,"c":22,"v":0.025},{"r":32,"c":12,"v":0.095},{"r":34,"c":28,"v":0.055},{"r":37,"c":30,"v":0.03},{"r":39,"c":7,"v":0.05},{"r":39,"c":27,"v":0.05},{"r":39,"c":44,"v":0.05},{"r":41,"c":1,"v":0.04},{"r":41,"c":6,"v":0.03},{"r":41,"c":8,"v":0.05},{"r":41,"c":15,"v":0.04},{"r":41,"c":17,"v":0.04},{"r":41,"c":18,"v":0.03},{"r":42,"c":9,"v":0.03},{"r":42,"c":24,"v":0.03},{"r":42,"c":46,"v":0.03},{"r":44,"c":7,"v":0.03},{"r":44,"c":39,"v":0.05},{"r":44,"c":27,"v":0.025},{"r":45,"c":4,"v":0.03},{"r":49,"c":26,"v":0.04},{"r":49,"c":4,"v":0.03},
{"r":2,"c":95,"v":0.07},{"r":1,"c":52,"v":0.025},{"r":3,"c":55,"v":0.04},{"r":3,"c":72,"v":0.05},{"r":5,"c":61,"v":0.04},{"r":5,"c":90,"v":0.035},{"r":7,"c":59,"v":0.07},{"r":6,"c":69,"v":0.03},{"r":9,"c":63,"v":0.045},{"r":10,"c":63,"v":0.045},{"r":9,"c":66,"v":0.065},{"r":10,"c":66,"v":0.065},{"r":9,"c":71,"v":0.055},{"r":9,"c":74,"v":0.055},{"r":10,"c":74,"v":0.025},{"r":9,"c":92,"v":0.04},{"r":10,"c":92,"v":0.04},{"r":11,"c":98,"v":0.035},{"r":13,"c":85,"v":0.03},{"r":14,"c":61,"v":0.05},{"r":14,"c":90,"v":0.06},{"r":14,"c":99,"v":-0.03},{"r":20,"c":68,"v":0.08},{"r":20,"c":99,"v":0.085},{"r":19,"c":99,"v":0.045},{"r":24,"c":63,"v":0.05},{"r":24,"c":66,"v":0.055},{"r":24,"c":71,"v":0.06},{"r":24,"c":72,"v":0.03},{"r":24,"c":74,"v":0.05},{"r":24,"c":92,"v":0.035},{"r":22,"c":65,"v":0.04},{"r":22,"c":79,"v":0.035},{"r":26,"c":82,"v":0.045},{"r":26,"c":84,"v":0.07},{"r":27,"c":59,"v":0.065},{"r":28,"c":57,"v":0.04},{"r":28,"c":67,"v":0.04},{"r":28,"c":76,"v":0.09},{"r":28,"c":80,"v":0.035},{"r":30,"c":85,"v":0.04},{"r":30,"c":70,"v":0.035},{"r":31,"c":65,"v":0.045},{"r":31,"c":79,"v":0.035},{"r":34,"c":57,"v":0.03},{"r":34,"c":67,"v":0.035},{"r":34,"c":76,"v":0.08},{"r":36,"c":72,"v":0.08},{"r":39,"c":59,"v":0.075},{"r":39,"c":61,"v":0.03},{"r":40,"c":56,"v":0.065},{"r":40,"c":88,"v":0.105},{"r":42,"c":63,"v":0.035},{"r":42,"c":66,"v":0.06},{"r":42,"c":71,"v":0.055},{"r":42,"c":74,"v":0.05},{"r":42,"c":92,"v":0.04},{"r":43,"c":80,"v":0.075},{"r":44,"c":59,"v":0.035},{"r":39,"c":51,"v":-0.03},{"r":36,"c":58,"v":-0.03},{"r":39,"c":68,"v":-0.03},{"r":10,"c":84,"v":-0.03},
{"r":59,"c":39,"v":0.06},{"r":59,"c":7,"v":0.03},{"r":63,"c":9,"v":0.035},{"r":63,"c":10,"v":0.035},{"r":63,"c":24,"v":0.03},{"r":63,"c":42,"v":0.035},{"r":66,"c":9,"v":0.035},{"r":66,"c":10,"v":0.035},{"r":66,"c":24,"v":0.03},{"r":66,"c":42,"v":0.035},{"r":67,"c":28,"v":0.055},{"r":67,"c":34,"v":0.045},{"r":68,"c":2,"v":-0.03},{"r":68,"c":20,"v":0.03},{"r":68,"c":9,"v":0.025},{"r":68,"c":39,"v":-0.03},{"r":68,"c":46,"v":0.03},{"r":69,"c":17,"v":0.035},{"r":70,"c":2,"v":0.04},{"r":70,"c":30,"v":0.025},{"r":71,"c":9,"v":0.03},{"r":71,"c":15,"v":-0.025},{"r":71,"c":42,"v":0.025},{"r":72,"c":36,"v":0.03},{"r":74,"c":4,"v":-0.03},{"r":74,"c":9,"v":0.03},{"r":74,"c":10,"v":0.03},{"r":74,"c":24,"v":0.04},{"r":74,"c":42,"v":0.04},{"r":76,"c":28,"v":0.06},{"r":76,"c":34,"v":0.055},{"r":95,"c":2,"v":0.05},{"r":95,"c":13,"v":0.04},{"r":95,"c":30,"v":0.06},{"r":97,"c":39,"v":0.035},{"r":84,"c":26,"v":0.075},{"r":84,"c":45,"v":0.06},{"r":84,"c":49,"v":0.06},{"r":84,"c":39,"v":-0.035},{"r":84,"c":12,"v":-0.03},{"r":84,"c":7,"v":-0.025},{"r":80,"c":43,"v":0.06},{"r":88,"c":40,"v":0.03},{"r":85,"c":2,"v":0.025},{"r":85,"c":13,"v":0.03},{"r":85,"c":30,"v":0.03},{"r":85,"c":37,"v":0.03},{"r":83,"c":5,"v":0.03},{"r":83,"c":14,"v":0.025},{"r":83,"c":16,"v":0.025},{"r":83,"c":39,"v":0.03},{"r":90,"c":5,"v":0.025},{"r":90,"c":7,"v":0.025},{"r":90,"c":14,"v":0.025},{"r":90,"c":44,"v":0.025},{"r":51,"c":16,"v":-0.03},{"r":51,"c":29,"v":0.02},{"r":55,"c":36,"v":0.03},{"r":99,"c":15,"v":-0.02},{"r":99,"c":16,"v":-0.02},{"r":99,"c":17,"v":-0.02},{"r":99,"c":19,"v":0.03},{"r":99,"c":1,"v":-0.015},{"r":98,"c":11,"v":0.03},{"r":98,"c":23,"v":0.025},{"r":99,"c":39,"v":-0.03},
{"r":54,"c":50,"v":0.05},{"r":53,"c":61,"v":0.03},{"r":53,"c":64,"v":0.03},{"r":53,"c":83,"v":0.03},{"r":53,"c":90,"v":0.035},{"r":53,"c":97,"v":0.03},{"r":55,"c":72,"v":0.035},{"r":56,"c":77,"v":0.025},{"r":56,"c":88,"v":0.06},{"r":57,"c":80,"v":0.03},{"r":63,"c":66,"v":0.065},{"r":63,"c":71,"v":0.05},{"r":63,"c":72,"v":0.03},{"r":63,"c":74,"v":0.05},{"r":63,"c":92,"v":0.03},{"r":61,"c":90,"v":0.055},{"r":61,"c":53,"v":0.03},{"r":64,"c":77,"v":0.05},{"r":65,"c":79,"v":0.04},{"r":66,"c":63,"v":0.055},{"r":66,"c":71,"v":0.04},{"r":66,"c":72,"v":0.03},{"r":66,"c":74,"v":0.05},{"r":66,"c":92,"v":0.055},{"r":67,"c":76,"v":0.065},{"r":67,"c":80,"v":0.03},{"r":68,"c":99,"v":0.08},{"r":68,"c":74,"v":0.035},{"r":68,"c":63,"v":0.03},{"r":68,"c":87,"v":0.035},{"r":68,"c":90,"v":-0.03},{"r":70,"c":85,"v":0.03},{"r":70,"c":62,"v":0.025},{"r":70,"c":95,"v":0.03},{"r":71,"c":63,"v":0.03},{"r":71,"c":66,"v":0.04},{"r":71,"c":74,"v":0.04},{"r":71,"c":92,"v":0.03},{"r":73,"c":89,"v":0.08},{"r":74,"c":63,"v":0.045},{"r":74,"c":66,"v":0.05},{"r":74,"c":71,"v":0.055},{"r":74,"c":92,"v":0.04},{"r":76,"c":57,"v":0.035},{"r":76,"c":67,"v":0.035},{"r":76,"c":82,"v":-0.025},{"r":77,"c":64,"v":0.09},{"r":78,"c":64,"v":0.03},{"r":79,"c":65,"v":0.05},{"r":81,"c":52,"v":0.03},{"r":82,"c":52,"v":0.02},{"r":83,"c":61,"v":0.035},{"r":83,"c":90,"v":0.03},{"r":84,"c":82,"v":0.05},{"r":84,"c":87,"v":0.035},{"r":84,"c":78,"v":-0.025},{"r":85,"c":95,"v":0.04},{"r":87,"c":68,"v":0.03},{"r":87,"c":99,"v":0.03},{"r":88,"c":56,"v":0.03},{"r":88,"c":64,"v":0.03},{"r":89,"c":73,"v":0.085},{"r":90,"c":61,"v":0.045},{"r":90,"c":83,"v":0.03},{"r":90,"c":97,"v":0.03},{"r":92,"c":63,"v":0.03},{"r":92,"c":66,"v":0.025},{"r":93,"c":58,"v":0.035},{"r":95,"c":70,"v":0.045},{"r":95,"c":85,"v":0.03},{"r":96,"c":91,"v":0.03},{"r":97,"c":61,"v":0.03},{"r":97,"c":77,"v":0.03},{"r":97,"c":90,"v":0.04},{"r":99,"c":68,"v":0.06},{"r":99,"c":63,"v":0.035},{"r":99,"c":74,"v":0.03},{"r":99,"c":87,"v":0.03}],
"t":[{"t":"C","x":119.8,"y":1.6,"s":"c"},{"t":"res","x":126.2,"y":1.552,"s":"r"}],"u":[{"t":"1","x":127.3,"y":1.734}]},
"columns":3,"spacing":0,"bounds":"flush","concat":[
{"width":27,"height":288,"data":{"values":[]},"mark":"rule","encoding":{}},
{"width":586,"height":288,"title":{"text":"Time-lagged correlation matrix","fontSize":47.6,"font":"DejaVu Sans","fontWeight":"normal","color":"#000","anchor":"start","frame":"group","dx":-35,"offset":-57},"resolve":{"scale":{"x":"independent"},"axis":{"x":"independent","y":"independent"}},"layer":[
{"data":{"name":"m"},"mark":{"type":"bar","fill":"#0000ff","stroke":"#000","strokeWidth":2},"encoding":{"x":{"field":"i","type":"ordinal","scale":{"type":"band","paddingInner":0.2,"paddingOuter":0.1,"align":0},"axis":{"orient":"bottom","values":[50],"bandPosition":0,"labels":false,"title":null,"zindex":1}},"y":{"field":"reaction","type":"quantitative","stack":null,"scale":{"domain":[0,1.5],"nice":false},"axis":{"orient":"left","values":[0,0.5,1,1.5],"format":".1f","title":"reaction","titleY":138,"labelPadding":13,"titlePadding":12,"zindex":1}}}},
{"data":{"name":"t"},"mark":{"type":"text","align":"left","baseline":"alphabetic","font":"Liberation Serif","fontStyle":"italic","color":"#000"},"encoding":{"text":{"field":"t"},"size":{"field":"s","type":"nominal","scale":{"domain":["c","r"],"range":[50,30]},"legend":null},"x":{"field":"x","type":"quantitative","scale":{"domain":[0,100],"nice":false},"axis":{"orient":"top","values":[0,50,100],"labels":false,"title":null,"zindex":1}},"y":{"field":"y","type":"quantitative","scale":{"domain":[0,1.5],"nice":false},"axis":{"orient":"right","values":[0,0.5,1,1.5],"labels":false,"title":null,"zindex":1}}}},
{"data":{"name":"u"},"mark":{"type":"text","align":"left","baseline":"alphabetic","font":"Liberation Serif","fontSize":30,"color":"#000"},"encoding":{"text":{"field":"t"},"x":{"field":"x","type":"quantitative","scale":{"domain":[0,100],"nice":false},"axis":null},"y":{"field":"y","type":"quantitative","scale":{"domain":[0,1.5],"nice":false},"axis":null}}}
]},
{"width":235,"height":288,"resolve":{"axis":{"x":"independent","y":"independent"}},"layer":[
{"data":{"name":"m"},"mark":{"type":"point","filled":true,"fill":"#0000ff","stroke":"#000","strokeWidth":1,"opacity":1,"size":125},"encoding":{"x":{"field":"cause","type":"quantitative","scale":{"domain":[0,1.5],"nice":false},"axis":{"orient":"bottom","values":[0.5,1],"labels":false,"title":null,"zindex":1}},"y":{"field":"reaction","type":"quantitative","scale":{"domain":[0,1.5],"nice":false},"axis":{"orient":"left","values":[0.5,1],"labels":false,"title":null,"zindex":1}}}},
{"data":{"name":"m"},"mark":{"type":"point","opacity":0},"encoding":{"x":{"field":"cause","type":"quantitative","scale":{"domain":[0,1.5],"nice":false},"axis":{"orient":"top","values":[0.5,1],"labels":false,"title":null,"zindex":1}},"y":{"field":"reaction","type":"quantitative","scale":{"domain":[0,1.5],"nice":false},"axis":{"orient":"right","values":[0.5,1],"labels":false,"title":null,"zindex":1}}}}
]},
{"width":27,"height":586,"data":{"values":[{"lo":-0.153,"hi":0.1525,"a":0,"b":22}]},"mark":{"type":"rect","stroke":"#000","strokeWidth":2,"fill":{"gradient":"linear","x1":0,"y1":0,"x2":0,"y2":1,"stops":[{"offset":0,"color":"#800000"},{"offset":0.25,"color":"#ff0000"},{"offset":0.5,"color":"#ffffff"},{"offset":0.75,"color":"#0000ff"},{"offset":1,"color":"#00004d"}]}},"encoding":{"x":{"field":"a","type":"quantitative","scale":{"domain":[0,27],"nice":false},"axis":null},"x2":{"field":"b"},"y":{"field":"lo","type":"quantitative","scale":{"domain":[-0.153,0.1969],"nice":false},"axis":{"orient":"left","values":[-0.12,-0.08,-0.04,0,0.04,0.08,0.12],"format":".2f","title":null,"domain":false,"labelPadding":13,"labelExpr":"replace(datum.label,'-','−')","zindex":1}},"y2":{"field":"hi"}}},
{"width":586,"height":586,"view":{"fill":"#fbf9fc"},"resolve":{"axis":{"x":"independent","y":"independent"}},"layer":[
{"data":{"name":"h"},"mark":{"type":"rect","width":5.86,"height":5.86},"encoding":{"color":{"field":"v","type":"quantitative","legend":null,"scale":{"domain":[-0.153,-0.0765,0,0.0765,0.153],"range":["#00004d","#0000ff","#ffffff","#ff0000","#800000"],"interpolate":"rgb"}},"x":{"field":"c","type":"quantitative","scale":{"domain":[-0.5,99.5],"nice":false},"axis":{"orient":"bottom","values":[0,20,40,60,80],"labels":false,"title":null,"zindex":1}},"y":{"field":"r","type":"quantitative","scale":{"domain":[-0.5,99.5],"reverse":true,"nice":false},"axis":{"orient":"left","values":[0,20,40,60,80],"labels":false,"title":null,"zindex":1}}}},
{"data":{"name":"h"},"mark":{"type":"point","opacity":0},"encoding":{"x":{"field":"c","type":"quantitative","scale":{"domain":[-0.5,99.5],"nice":false},"axis":{"orient":"top","values":[0,20,40,60,80],"labels":false,"title":null,"zindex":1}},"y":{"field":"r","type":"quantitative","scale":{"domain":[-0.5,99.5],"reverse":true,"nice":false},"axis":{"orient":"right","values":[0,20,40,60,80],"labels":false,"title":null,"zindex":1}}}}
]},
{"width":235,"height":586,"resolve":{"scale":{"y":"independent"},"axis":{"x":"independent","y":"independent"}},"layer":[
{"data":{"name":"m"},"mark":{"type":"bar","fill":"#0000ff","stroke":"#000","strokeWidth":2},"encoding":{"x":{"field":"cause","type":"quantitative","stack":null,"scale":{"domain":[0,1.5],"nice":false},"axis":{"orient":"bottom","values":[0,0.5,1,1.5],"format":".1f","title":"cause","labelPadding":16,"titlePadding":13,"zindex":1}},"y":{"field":"i","type":"ordinal","scale":{"type":"band","paddingInner":0.2,"paddingOuter":0.1,"align":0},"axis":{"orient":"left","values":[50],"bandPosition":0,"labels":false,"title":null,"zindex":1}}}},
{"data":{"name":"m"},"mark":{"type":"point","opacity":0},"encoding":{"x":{"field":"cause","type":"quantitative","scale":{"domain":[0,1.5],"nice":false},"axis":{"orient":"top","values":[0.5,1],"labels":false,"title":null,"zindex":1}},"y":{"field":"i","type":"quantitative","scale":{"domain":[0,100],"reverse":true,"nice":false},"axis":{"orient":"right","values":[0,50,100],"labels":false,"title":null,"zindex":1}}}}
]}
]}
